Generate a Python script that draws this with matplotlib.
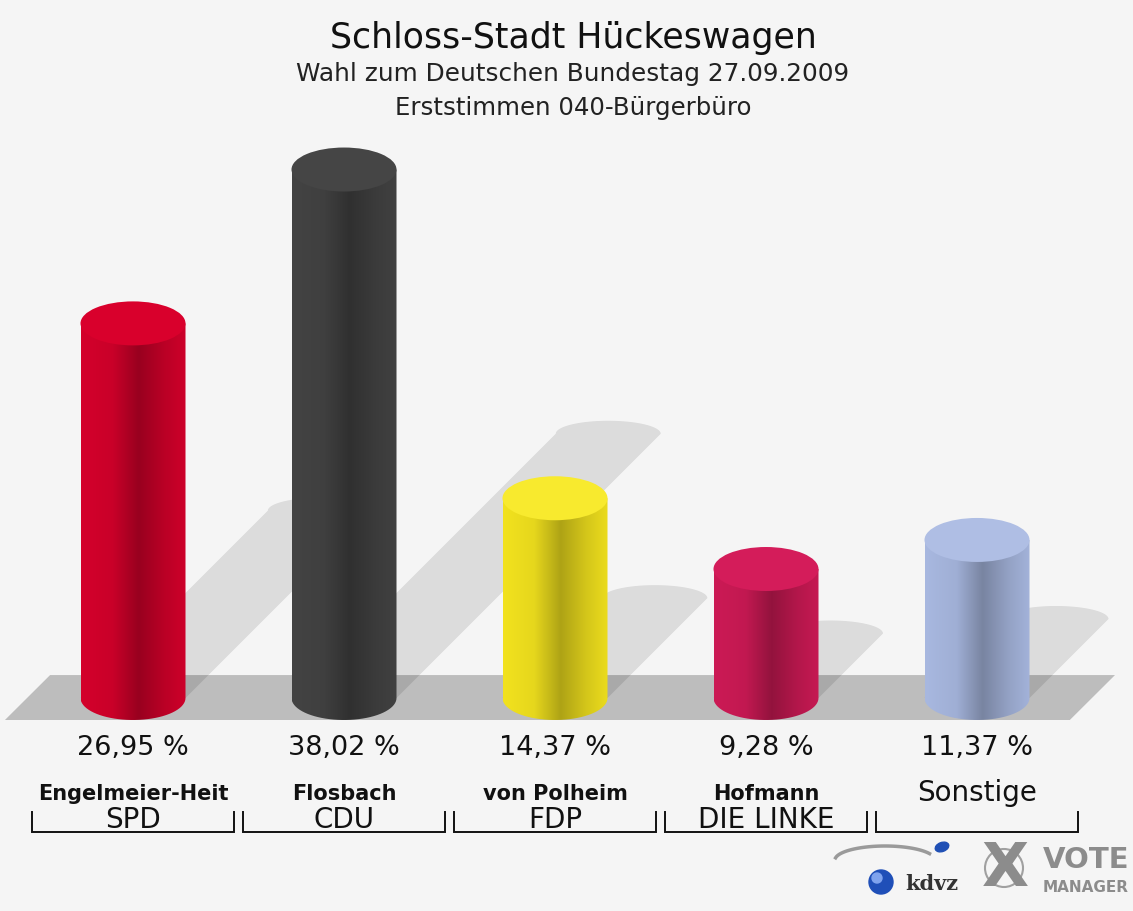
import numpy as np
import matplotlib
matplotlib.use("Agg")
import matplotlib.pyplot as plt
from matplotlib.patches import Ellipse, Polygon, PathPatch, Circle
from matplotlib.path import Path
from matplotlib.transforms import blended_transform_factory

# ---------------- data ----------------
candidates = ["Engelmeier-Heit", "Flosbach", "von Polheim", "Hofmann", "Sonstige"]
parties = ["SPD", "CDU", "FDP", "DIE LINKE", ""]
values = [26.95, 38.02, 14.37, 9.28, 11.37]
side_colors = ["#d4002b", "#434343", "#f2e21e", "#cc1a55", "#a8b8e0"]
top_colors = ["#d9002c", "#454545", "#f8ea2e", "#d41c5a", "#afbee4"]
title = "Schloss-Stadt Hückeswagen"
subtitle1 = "Wahl zum Deutschen Bundestag 27.09.2009"
subtitle2 = "Erststimmen 040-Bürgerbüro"

# ---------------- layout ----------------
W, H = 1133, 911
BG = "#f5f5f5"
X0_PX, DX_PX = 133, 211        # pixel x of first category, spacing
Y0_PX, PX_PER_PCT = 698, 13.9  # pixel y of value 0, pixels per percent

plt.rcParams['font.family'] = ['DejaVu Sans']
fig = plt.figure(figsize=(W / 100, H / 100), dpi=100, facecolor=BG)
ax = fig.add_axes([0, 0, 1, 1])
ax.set_facecolor(BG)
ax.set_xlim(-X0_PX / DX_PX, (W - X0_PX) / DX_PX)
ax.set_ylim(-(H - Y0_PX) / PX_PER_PCT, Y0_PX / PX_PER_PCT)
ax.axis("off")

def fy(py):
    return 1 - py / H

def fx(px):
    return px / W

bt = blended_transform_factory(ax.transData, fig.transFigure)

hw = 52.5 / DX_PX            # half width of cylinder (x units)
eh = 22 / PX_PER_PCT         # half height of ellipse (y units)
seh = 13 / PX_PER_PCT        # half height of shadow top
sx = PX_PER_PCT / DX_PX      # x units per percent of shadow shift

# ground plane
gp = Polygon([(-0.607, -eh), (4.44, -eh), (4.654, 1.65), (-0.393, 1.65)],
             closed=True, facecolor="#bdbdbd", edgecolor="none", zorder=1)
ax.add_patch(gp)

# shadows
for i, v in enumerate(values):
    d = v * 0.5
    dx = d * sx
    t = np.linspace(0, np.pi, 40)
    arc = np.column_stack([i + dx + hw * np.cos(t), d + seh * np.sin(t)])
    pts = np.vstack([[i - hw, 0], [i + hw, 0], arc, [i - hw + dx, d]])
    ax.add_patch(Polygon(pts, closed=True, facecolor="black", alpha=0.1,
                         edgecolor="none", zorder=2))

# shading profile across cylinder
prof_t = [0.0, 0.3, 0.55, 0.8, 1.0]
prof_f = [1.0, 0.95, 0.72, 0.88, 0.97]
tt = np.linspace(0, 1, 200)
fac = np.interp(tt, prof_t, prof_f)

for i, (v, sc, tc) in enumerate(zip(values, side_colors, top_colors)):
    rgb = np.array(matplotlib.colors.to_rgb(sc))
    img = np.clip(fac[:, None] * rgb[None, :], 0, 1)[None, :, :]
    img = np.repeat(img, 2, axis=0)
    t = np.linspace(np.pi, 2 * np.pi, 40)
    bottom_arc = np.column_stack([i + hw * np.cos(t), eh * np.sin(t)])
    pts = np.vstack([[i - hw, v], bottom_arc, [i + hw, v], [i - hw, v]])
    path = Path(pts, closed=True)
    clip = PathPatch(path, facecolor="none", edgecolor="none", transform=ax.transData)
    ax.add_patch(clip)
    im = ax.imshow(img, extent=[i - hw, i + hw, -eh - 0.1, v], aspect="auto",
                   interpolation="bilinear", zorder=3)
    im.set_clip_path(clip)
    ax.add_patch(Ellipse((i, v), 2 * hw, 2 * eh, facecolor=tc, edgecolor="none", zorder=4))

# labels
for i, (v, c, p) in enumerate(zip(values, candidates, parties)):
    ax.text(i, fy(748), f"{v:.2f}".replace(".", ",") + " %", transform=bt,
            ha="center", va="center", fontsize=19.5, color="#111111")
    if p:
        ax.text(i, fy(794), c, transform=bt, ha="center", va="center",
                fontsize=15, fontweight="bold", color="#111111")
        ax.text(i, fy(820), p, transform=bt, ha="center", va="center",
                fontsize=20, color="#111111")
    else:
        ax.text(i, fy(793), c, transform=bt, ha="center", va="center",
                fontsize=20, color="#111111")
    l, r = i - 0.48, i + 0.48
    ax.plot([l, l, r, r], [fy(812), fy(832), fy(832), fy(812)], transform=bt,
            color="#111111", lw=1.4, solid_joinstyle="miter", zorder=5)

# titles
tx = fx(573)
fig.text(tx, fy(38), title, ha="center", va="center", fontsize=25, color="#111111")
fig.text(tx, fy(74), subtitle1, ha="center", va="center", fontsize=17.8, color="#222222")
fig.text(tx, fy(108), subtitle2, ha="center", va="center", fontsize=17.6, color="#222222")

# logo
lx = fig.add_axes([fx(820), fy(911), fx(313), 80 / H])
lx.set_xlim(820, 1133)
lx.set_ylim(911, 831)
lx.axis("off")
tsw = np.linspace(0.15 * np.pi, 0.95 * np.pi, 50)
lx.plot(885 + 50 * np.cos(tsw), 860 - 14 * np.sin(tsw), color="#9a9a9a", lw=2.5)
lx.add_patch(Circle((881, 882), 12, color="#1f4fb8"))
lx.add_patch(Circle((877, 878), 5, color="#7fa3ee"))
lx.add_patch(Ellipse((942, 847), 14, 9, angle=-20, color="#2050b5"))
lx.text(905, 884, "kdvz", fontsize=15, fontweight="bold", family="DejaVu Serif",
        color="#333333", va="center", ha="left")
lx.add_patch(Circle((1004, 868), 19, facecolor="none", edgecolor="#a0a0a0", lw=1.5))
lx.text(1005, 870, "X", fontsize=44, fontweight="bold", color="#8c8c8c",
        va="center", ha="center")
lx.text(1043, 860, "VOTE", fontsize=21, fontweight="bold", color="#8c8c8c",
        va="center", ha="left")
lx.text(1043, 888, "MANAGER", fontsize=11, fontweight="bold", color="#8c8c8c",
        va="center", ha="left")

fig.savefig("out.png", dpi=100, facecolor=BG)
